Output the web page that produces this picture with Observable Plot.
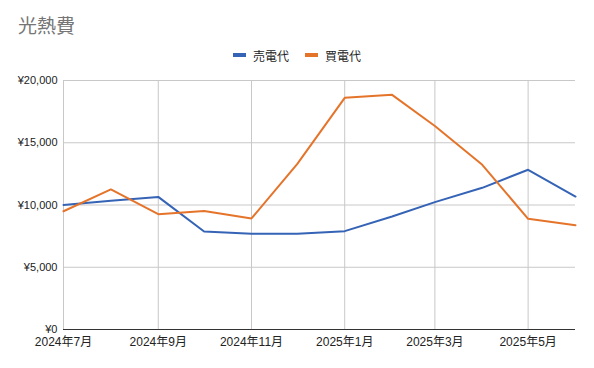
<!DOCTYPE html>
<html>
<head>
<meta charset="utf-8">
<script src="https://cdn.jsdelivr.net/npm/d3@7"></script>
<script src="https://cdn.jsdelivr.net/npm/@observablehq/plot@0.6"></script>
<style>
  html, body { margin: 0; padding: 0; background: #fff; }
  body { font-family: "Liberation Sans", Arial, "Noto Sans CJK JP", sans-serif; }
  #wrap { position: relative; width: 594px; height: 368px; overflow: hidden; }
  #title { position: absolute; left: 18px; top: 11px; font-size: 19px; color: #757575; font-family: "Noto Sans CJK JP", sans-serif; }
  #legend { position: absolute; left: 0; width: 594px; top: 43px; text-align: center; font-size: 12px; color: #222; font-family: "Noto Sans CJK JP", sans-serif; }
  #legend span.item { display: inline-flex; align-items: center; margin: 0 8px; }
  #legend span.sw { display: inline-block; width: 13px; height: 4px; margin-right: 7px; }
  #chart { position: absolute; left: 0; top: 0; }
</style>
</head>
<body>
<div id="wrap">
  <div id="chart"></div>
  <div id="title">光熱費</div>
  <div id="legend"></div>
</div>
<script>
const months = ["2024-07","2024-08","2024-09","2024-10","2024-11","2024-12","2025-01","2025-02","2025-03","2025-04","2025-05","2025-06"];
const seriesNames = ["売電代", "買電代"];
const sellValues = [10000, 10350, 10650, 7870, 7690, 7700, 7900, 9080, 10230, 11380, 12830, 10680];
const buyValues  = [9500, 11250, 9260, 9520, 8920, 13300, 18610, 18850, 16350, 13230, 8890, 8380];
const yTicks = [0, 5000, 10000, 15000, 20000];
const xTickMonths = ["2024-07","2024-09","2024-11","2025-01","2025-03","2025-05"];
const colors = ["#3563b5", "#e5742b"];

const parse = d3.utcParse("%Y-%m");
const data = [];
months.forEach((m, i) => {
  data.push({date: parse(m), value: sellValues[i], series: seriesNames[0]});
  data.push({date: parse(m), value: buyValues[i], series: seriesNames[1]});
});
const xTicks = xTickMonths.map(parse);
const fmtX = d => `${d.getUTCFullYear()}年${d.getUTCMonth() + 1}月`;
const fmtY = d => "¥" + d3.format(",")(d);

const plot = Plot.plot({
  width: 594,
  height: 368,
  marginTop: 80,
  marginBottom: 39,
  marginLeft: 63,
  marginRight: 19,
  style: { fontFamily: '"Liberation Sans", Arial, "Noto Sans CJK JP", sans-serif', fontSize: "11px", color: "#222", background: "transparent" },
  x: { type: "utc", domain: [parse(months[0]), parse(months[months.length - 1])], label: null },
  y: { domain: [0, 20000], label: null },
  color: { domain: seriesNames, range: colors },
  marks: [
    Plot.gridY(yTicks, { stroke: "#c8c8c8", strokeOpacity: 1, strokeWidth: 1 }),
    Plot.gridX(xTicks, { stroke: "#c8c8c8", strokeOpacity: 1, strokeWidth: 1 }),
    Plot.axisY(yTicks, { tickFormat: fmtY, tickSize: 0, tickPadding: 6, fontSize: 11, fill: "#222", label: null }),
    Plot.axisX(xTicks, { tickFormat: fmtX, tickSize: 0, tickPadding: 8, fontSize: 12, fill: "#222", label: null }),
    Plot.ruleY([0], { stroke: "#333", strokeWidth: 1.2 }),
    Plot.line(data, { x: "date", y: "value", z: "series", stroke: "series", strokeWidth: 2 })
  ]
});
document.getElementById("chart").appendChild(plot);

const legend = document.getElementById("legend");
seriesNames.forEach((s, i) => {
  const item = document.createElement("span");
  item.className = "item";
  const sw = document.createElement("span");
  sw.className = "sw";
  sw.style.background = colors[i];
  item.appendChild(sw);
  item.appendChild(document.createTextNode(s));
  legend.appendChild(item);
});
</script>
</body>
</html>
